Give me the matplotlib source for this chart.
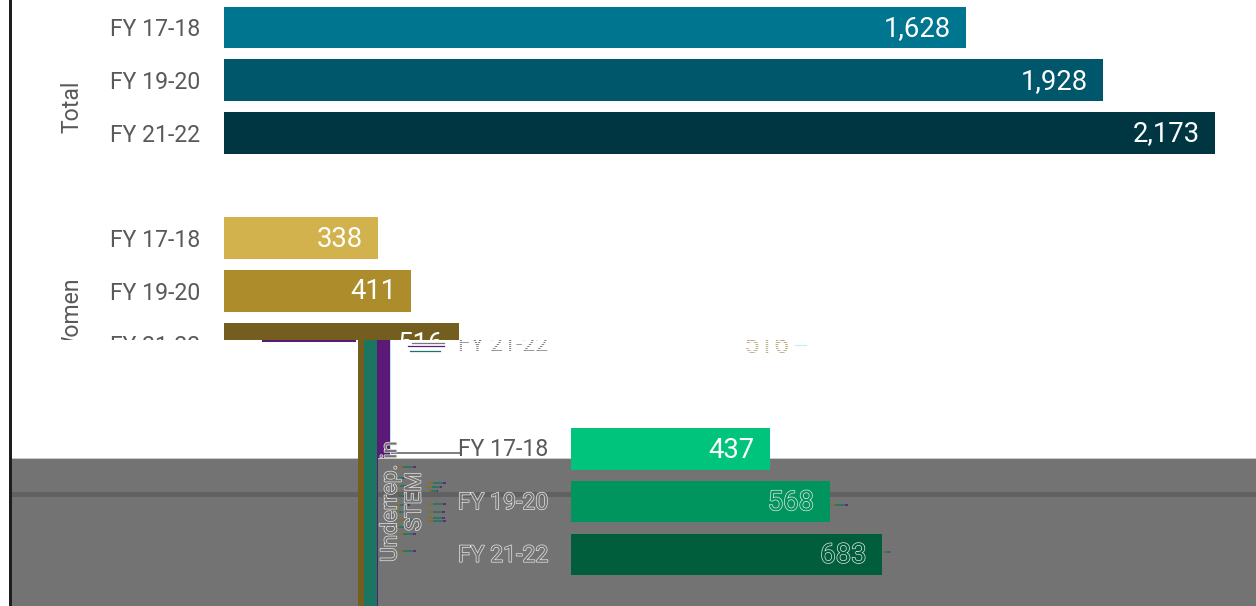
import matplotlib
matplotlib.use("Agg")
import matplotlib.pyplot as plt
import matplotlib.patheffects as pe
from matplotlib.transforms import Bbox, TransformedBbox, IdentityTransform
from matplotlib.patches import Rectangle

# ---- data -----
periods = ["FY 17-18", "FY 19-20", "FY 21-22"]
total_values = [1628, 1928, 2173]
women_values = [338, 411, 516]
urm_values = [437, 568, 683]
group_labels = ["Total", "Women", "Underrep. in\nSTEM"]
total_colors = ["#00758F", "#00566A", "#003542"]
women_colors = ["#D2B24C", "#AD8C2C", "#735D1F"]
urm_colors = ["#00C47C", "#00955F", "#005E3C"]

W, H = 1256, 606
plt.rcParams["font.family"] = ["Roboto", "DejaVu Sans"]
TICK = "#595959"
BAND = "#737373"
FS = 16.6
VFS = 19.8
PX = 0.72


def pos(x0, y0, x1, y1):
    return [x0 / W, 1 - y1 / H, (x1 - x0) / W, (y1 - y0) / H]


fig = plt.figure(figsize=(W / 100, H / 100), dpi=100, facecolor="white")

# ---- upper panel (cut off at y = 340 by the layer above it) ----
top = fig.add_axes(pos(224, 0, 1256, 366), zorder=1)
top.patch.set_alpha(0)
scale = 0.456
pitch = 52.67
top_rows = [0, 1, 2, 4, 5, 6]
top_vals = total_values + women_values
top_cols = total_colors + women_colors
top.barh(top_rows, top_vals, height=0.79, color=top_cols, edgecolor="none")
for r, v in zip(top_rows, top_vals):
    top.annotate(f"{v:,}", (v, r), xytext=(-15 * PX, -1 * PX), textcoords="offset points",
                 ha="right", va="center", color="white", fontsize=VFS)
top.set_yticks(top_rows, periods + periods)
top.tick_params(axis="y", length=0, pad=24 * PX, labelcolor=TICK, labelsize=FS)
top.set_xticks([])
top.set_xlim(0, (1256 - 224) / scale)
top.set_ylim((366 - 27.5) / pitch, -27.5 / pitch)
for s in top.spines.values():
    s.set_visible(False)
top.annotate(group_labels[0], (0, 1.51), xycoords=top.get_yaxis_transform(),
             xytext=(-152 * PX, 0), textcoords="offset points", rotation=90,
             ha="center", va="center", color=TICK, fontsize=FS)
top.annotate(group_labels[1], (0, 5.5), xycoords=top.get_yaxis_transform(),
             xytext=(-152 * PX, 0), textcoords="offset points", rotation=90,
             ha="center", va="center", color=TICK, fontsize=FS)

# ---- decoration layer in pixel coordinates ----
bg = fig.add_axes([0, 0, 1, 1], zorder=2)
bg.set_xlim(0, W)
bg.set_ylim(H, 0)
bg.axis("off")
bg.patch.set_alpha(0)


def box(x0, y0, x1, y1, c):
    bg.add_patch(Rectangle((x0, y0), x1 - x0, y1 - y0, fc=c, ec="none", lw=0))


box(12, 340, W, 459, "white")
box(12, 459, W, H, BAND)
box(12, 458, W, 459, "#C8C8C8")
box(12, 492, W, 497, "#616161")
box(9, 0, 12, H, "#1E1E1E")
box(358, 340, 364, H, "#735D1F")
box(364, 340, 377, H, "#1C7560")
box(377, 340, 390, 458, "#5B1A78")
box(377, 458, 378, H, "#5B1A78")
box(390, 340, 391, 458, "#BFE3EF")
box(262, 340, 356, 342, "#5B1A78")
box(391, 452, 460, 454, "#808080")

# small rendering streaks beside the rotated labels
streaks = [(398, 467, 416), (395, 478, 404), (397, 486, 406), (396, 496, 404),
           (396, 505, 410), (394, 512, 412), (398, 520, 420), (394, 527, 409),
           (398, 534, 416), (398, 551, 416), (428, 483, 446), (428, 487, 442),
           (428, 491, 438), (428, 504, 446), (428, 512, 445), (428, 518, 445),
           (428, 521, 446), (830, 505, 848), (883, 552, 890)]
for x0, y, x1 in streaks:
    a, b = x0 + (x1 - x0) * 0.3, x0 + (x1 - x0) * 0.85
    bg.plot([x0, a], [y, y], color="#8A7020", lw=1.1, solid_capstyle="butt")
    bg.plot([a, b], [y, y], color="#1C7560", lw=1.1, solid_capstyle="butt")
    bg.plot([b, x1], [y, y], color="#5B1A78", lw=1.1, solid_capstyle="butt")

# ---- lower panel ----
bot = fig.add_axes(pos(571, 340, 1256, 606), zorder=3)
bot.patch.set_alpha(0)
rows = [0, 1, 2]
bot.barh(rows, urm_values, height=0.79, color=urm_colors, edgecolor="none")
bot.set_xticks([])
bot.set_yticks([])
bot.set_xlim(0, (1256 - 571) / scale)
bot.set_ylim((606 - 449) / pitch, (340 - 449) / pitch)
for s in bot.spines.values():
    s.set_visible(False)


def outlined(fill, width=1.0):
    return dict(color=fill, path_effects=[pe.withStroke(linewidth=width, foreground="#E8E8E8")])


trans = bot.get_yaxis_transform()
for i, (r, lab, v) in enumerate(zip(rows, periods, urm_values)):
    style = dict(color=TICK) if i == 0 else outlined(BAND)
    bot.annotate(lab, (0, r), xycoords=trans, xytext=(-23 * PX, -1 * PX), textcoords="offset points",
                 ha="right", va="center", fontsize=FS, **style)
    style = dict(color="white") if i == 0 else outlined(urm_colors[i])
    bot.annotate(f"{v}", (v, r), xytext=(-16 * PX, -1 * PX), textcoords="offset points",
                 ha="right", va="center", fontsize=VFS, **style)
bot.annotate(group_labels[2], (0, 1), xycoords=trans, xytext=(-168 * PX, 0), textcoords="offset points",
             rotation=90, ha="center", va="center", fontsize=16.2, linespacing=1.2,
             multialignment="center", **outlined(BAND))

# ghost of the row above, only fragments survive
clip = TransformedBbox(Bbox([[400, H - 353], [810, H - 340]]), IdentityTransform())
ghost_row = -2
for t in [bot.annotate(periods[2], (0, ghost_row), xycoords=trans, xytext=(-23 * PX, -2 * PX),
                       textcoords="offset points", ha="right", va="center", fontsize=FS, color="#777777"),
          bot.annotate(f"{women_values[2]}", (women_values[2], ghost_row), xytext=(-16 * PX, -2 * PX),
                       textcoords="offset points", ha="right", va="center", fontsize=VFS, color="#B8A878")]:
    t.set_clip_on(True)
    t.set_clip_box(clip)
cover = fig.add_axes([0, 0, 1, 1], zorder=4)
cover.set_xlim(0, W)
cover.set_ylim(H, 0)
cover.axis("off")
cover.patch.set_alpha(0)
for y in range(340, 354, 2):
    cover.plot([455, 800], [y + 0.5, y + 0.5], color="white", lw=0.8, solid_capstyle="butt")
cover.plot([795, 806], [345, 345], color="#BFEFF5", lw=0.8)
cover.plot([408, 444], [346, 346], color="#5B1A78", lw=0.9)
cover.plot([410, 440], [351, 351], color="#1C7560", lw=0.9)
cover.plot([412, 444], [343, 343], color="#777777", lw=0.9)

fig.savefig("out.png", dpi=100, facecolor="white")
